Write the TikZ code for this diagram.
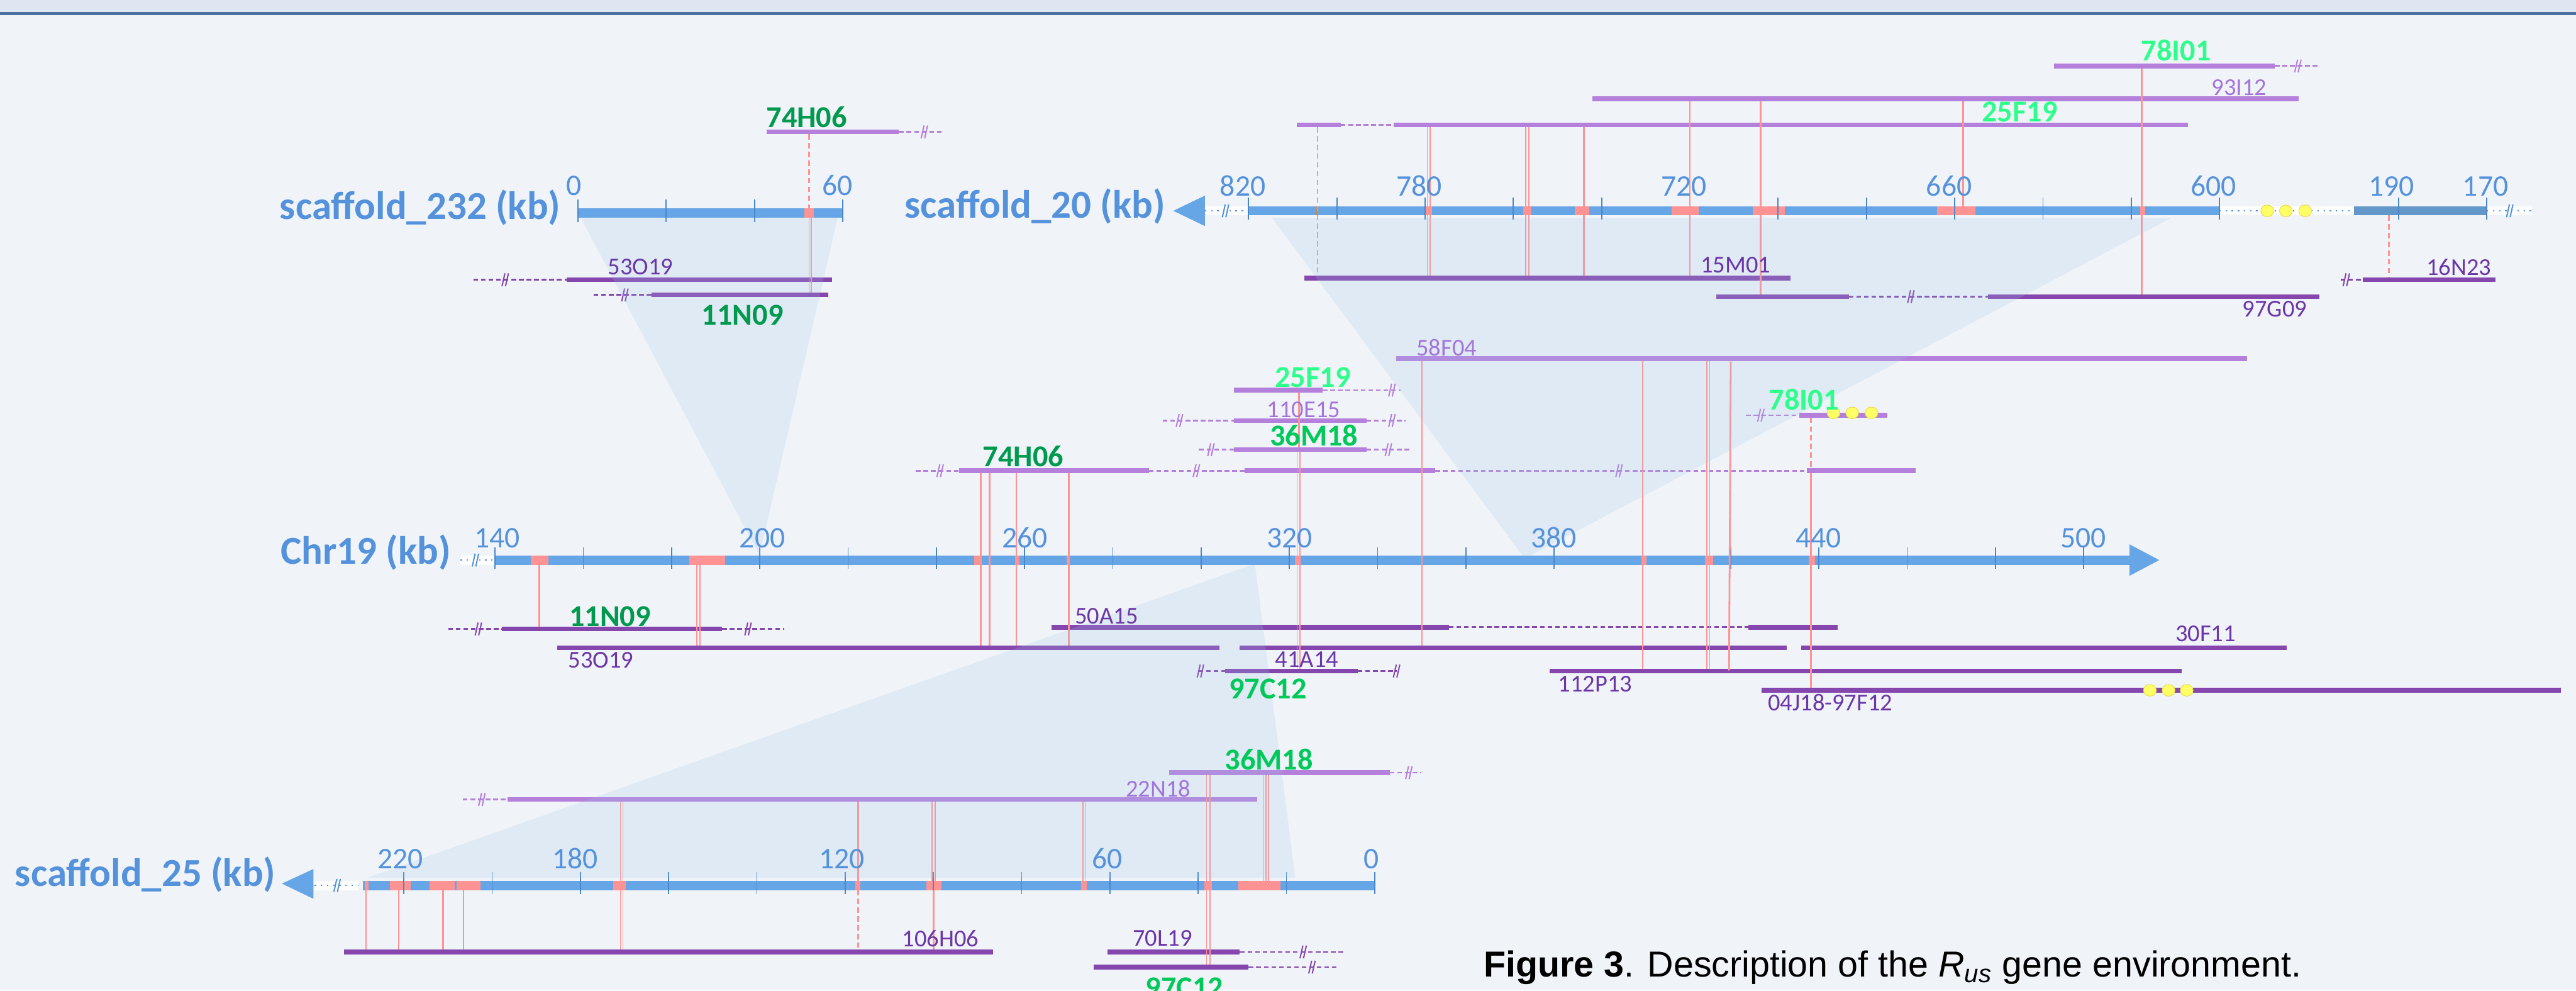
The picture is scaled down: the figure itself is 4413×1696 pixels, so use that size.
\documentclass[tikz,border=0pt]{standalone}
\usepackage{fontspec}
\setmainfont{Carlito}
\newfontfamily\capfont{Liberation Sans}
\usetikzlibrary{positioning}
\definecolor{pagebg}{HTML}{F0F4F9}
\definecolor{topstrip}{HTML}{DFE6F2}
\definecolor{topband}{HTML}{4A72A0}
\definecolor{axisblue}{HTML}{66A6E6}
\definecolor{axisdark}{HTML}{6396C9}
\definecolor{tickblue}{HTML}{4A86C8}
\definecolor{axistext}{HTML}{5592DC}
\definecolor{hitred}{HTML}{FF9393}
\definecolor{hitorange}{HTML}{E8821E}
\definecolor{lightclone}{HTML}{B580DB}
\definecolor{darkclone}{HTML}{8547AE}
\definecolor{lighttext}{HTML}{A374D9}
\definecolor{darktext}{HTML}{6B36A6}
\definecolor{greenhi}{HTML}{2EFF8A}
\definecolor{greenmid}{HTML}{00C95A}
\definecolor{greenlo}{HTML}{009A4E}
\definecolor{projblue}{HTML}{9DC3E6}
\definecolor{dotyellow}{HTML}{FFFF66}
\definecolor{dotrim}{HTML}{E8D840}

\tikzset{
  scaflbl/.style={anchor=base east, inner sep=0pt, text=axistext, font=\fontsize{19.3}{22}\selectfont\bfseries},
  ticklbl/.style={anchor=base, inner sep=0pt, text=axistext, font=\fontsize{14.6}{17}\selectfont},
  ticklne/.style={draw=tickblue, line width=0.2mm},
  hit/.style={fill=hitred},
  redln/.style={draw=hitred, line width=0.3mm},
  redthin/.style={draw=hitred, line width=0.18mm},
  reddash/.style={redln, dash pattern=on 0.9mm off 0.6mm},
  lclone/.style={fill=lightclone},
  dclone/.style={fill=darkclone},
  lext/.style={draw=lightclone, line width=0.3mm, dash pattern=on 0.8mm off 0.5mm},
  dext/.style={draw=darkclone, line width=0.3mm, dash pattern=on 0.8mm off 0.5mm},
  brk/.style={line width=0.22mm},
  gapdots/.style={draw=axistext, line width=0.25mm, dash pattern=on 0.25mm off 0.8mm},
  lname/.style={anchor=base west, inner sep=0pt, text=lighttext, font=\fontsize{11.8}{14}\selectfont},
  dname/.style={anchor=base west, inner sep=0pt, text=darktext, font=\fontsize{11.8}{14}\selectfont},
  gname/.style={anchor=base, inner sep=0pt, font=\fontsize{14.8}{17}\selectfont\bfseries},
  proj/.style={fill=projblue, fill opacity=0.2},
  ydot/.style={fill=dotyellow, draw=dotrim, line width=0.1mm}
}

% clone bar, dashed extension, break mark, gap in the axis
\newcommand{\clonebar}[4]{\fill[#4] (#1,#3) rectangle (#2,#3+8);}
\newcommand{\cloneext}[4]{\draw[#4] (#1,#3+4) -- (#2,#3+4);}
\newcommand{\brkmark}[3]{\draw[brk,#3] (#1-6,#2+15) -- (#1-1,#2-7) (#1,#2+15) -- (#1+5,#2-7);}
\newcommand{\gapseg}[3]{\fill[white] (#1,#3) rectangle (#2,#3+16); \draw[gapdots] (#1,#3+8) -- (#2,#3+8);}

\begin{document}
\begin{tikzpicture}[x=0.1mm, y=-0.1mm]
\useasboundingbox (0,0) rectangle (4413,1696);
\fill[pagebg] (0,0) rectangle (4413,1696);
\fill[topstrip] (0,0) rectangle (4413,20);
\fill[topband] (0,20) rectangle (4413,26);

% ---- scaffold_232
\fill[axisblue] (990,357) rectangle (1444,373);
\fill[hit] (1378,357) rectangle (1394,373);
\foreach \x in {990,1141,1293,1444} \draw[ticklne] (\x,342) -- (\x,380);
\clonebar{1313}{1540}{222}{lclone}
\cloneext{1540}{1615}{222}{lext}
\brkmark{1584}{222}{lightclone}
\clonebar{971}{1425}{475}{dclone}
\cloneext{811}{971}{475}{dext}
\brkmark{866}{475}{darkclone}
\clonebar{1116}{1419}{501}{dclone}
\cloneext{1017}{1116}{501}{dext}
\brkmark{1071}{501}{darkclone}
\draw[reddash] (1386,230) -- (1386,357);
\draw[redthin] (1386,373) -- (1386,501) (1390,373) -- (1390,501);

% ---- scaffold_20
\fill[axisblue] (2010,361) -- (2064,335) -- (2064,387) -- cycle;
\gapseg{2064}{2139}{353}
\brkmark{2100}{357}{axistext}
\fill[axisblue] (2139,353) rectangle (3802,369);
\gapseg{3802}{4033}{353}
\fill[axisdark] (4033,353) rectangle (4260,369);
\gapseg{4260}{4337}{353}
\brkmark{4300}{357}{axistext}
\foreach \a/\b in {2441/2453,2609/2623,2698/2723,2864/2910,3003/3058,3318/3384,3666/3675}
  \fill[hit] (\a,353) rectangle (\b,369);
\fill[hitorange] (2255,353) rectangle (2258,369);
\foreach \k in {0,...,11} \draw[ticklne] ({2139+151.2*\k},338) -- ++(0,38);
\foreach \x in {4109,4260} \draw[ticklne] (\x,338) -- ++(0,38);
\foreach \x in {3884,3916,3949} \fill[ydot] (\x,361) ellipse [x radius=11, y radius=10];
\clonebar{3519}{3897}{109}{lclone}
\cloneext{3897}{3973}{109}{lext}
\brkmark{3937}{109}{lightclone}
\clonebar{2728}{3938}{165}{lclone}
\clonebar{2222}{2297}{210}{lclone}
\cloneext{2297}{2387}{210}{lext}
\clonebar{2387}{3748}{210}{lclone}
\clonebar{2235}{3067}{472}{dclone}
\clonebar{2940}{3167}{504}{dclone}
\cloneext{3167}{3406}{504}{dext}
\brkmark{3274}{504}{darkclone}
\clonebar{3406}{3973}{504}{dclone}
\clonebar{4048}{4275}{475}{dclone}
\cloneext{4010}{4048}{475}{dext}
\brkmark{4020}{475}{darkclone}
\draw[reddash] (2257,218) -- (2257,472);
\draw[redthin] (2445,218) -- (2445,472) (2450,218) -- (2450,472);
\draw[redthin] (2614,218) -- (2614,472) (2619,218) -- (2619,472);
\draw[redln] (2713,218) -- (2713,472);
\draw[redln] (2895,173) -- (2895,472);
\draw[redln] (3016,173) -- (3016,504);
\draw[redln] (3363,173) -- (3363,353);
\draw[redln] (3669,117) -- (3669,504);
\draw[reddash] (4092,369) -- (4092,475);

% ---- Chr19
\gapseg{789}{848}{951}
\brkmark{815}{955}{axistext}
\fill[axisblue] (848,951) rectangle (3650,967);
\fill[axisblue] (3648,932) -- (3699,959) -- (3648,986) -- cycle;
\foreach \a/\b in {909/940,1181/1242,1669/1680,1739/1746,1827/1833,2218/2228,2812/2821,2921/2935,2962/2966,3099/3109}
  \fill[hit] (\a,951) rectangle (\b,967);
\foreach \k in {0,...,18} \draw[ticklne] ({848+151.2*\k},937) -- ++(0,37);
\clonebar{2114}{2266}{664}{lclone}
\cloneext{2266}{2399}{664}{lext}
\brkmark{2385}{664}{lightclone}
\clonebar{2114}{2341}{716}{lclone}
\cloneext{1992}{2114}{716}{lext}
\brkmark{2021}{716}{lightclone}
\cloneext{2341}{2408}{716}{lext}
\brkmark{2385}{716}{lightclone}
\clonebar{2114}{2341}{766}{lclone}
\cloneext{2054}{2114}{766}{lext}
\brkmark{2075}{766}{lightclone}
\cloneext{2341}{2414}{766}{lext}
\brkmark{2379}{766}{lightclone}
\clonebar{2392}{3850}{610}{lclone}
\clonebar{1643}{1968}{802}{lclone}
\cloneext{1569}{1643}{802}{lext}
\brkmark{1611}{802}{lightclone}
\cloneext{1968}{2132}{802}{lext}
\brkmark{2050}{802}{lightclone}
\clonebar{2132}{2459}{802}{lclone}
\cloneext{2459}{3095}{802}{lext}
\brkmark{2774}{802}{lightclone}
\clonebar{3095}{3282}{802}{lclone}
\clonebar{3082}{3233}{707}{lclone}
\cloneext{2991}{3082}{707}{lext}
\brkmark{3017}{707}{lightclone}
\clonebar{860}{1237}{1073}{dclone}
\cloneext{768}{860}{1073}{dext}
\brkmark{820}{1073}{darkclone}
\cloneext{1237}{1343}{1073}{dext}
\brkmark{1282}{1073}{darkclone}
\clonebar{955}{2089}{1105}{dclone}
\clonebar{1801}{2482}{1070}{dclone}
\cloneext{2482}{2995}{1070}{dext}
\clonebar{2995}{3148}{1070}{dclone}
\clonebar{2124}{3061}{1105}{dclone}
\clonebar{3086}{3917}{1105}{dclone}
\clonebar{2099}{2326}{1145}{dclone}
\cloneext{2053}{2099}{1145}{dext}
\brkmark{2057}{1145}{darkclone}
\cloneext{2326}{2393}{1145}{dext}
\brkmark{2393}{1145}{darkclone}
\clonebar{2655}{3737}{1145}{dclone}
\clonebar{3018}{4387}{1178}{dclone}
\draw[redln] (924,967) -- (924,1073);
\draw[redthin] (1194,967) -- (1194,1105) (1199,967) -- (1199,1105);
\foreach \x in {1680,1695,1741,1831} \draw[redln] (\x,810) -- (\x,1105);
\draw[redln] (2225,672) -- (2225,766);
\draw[redthin] (2222,774) -- (2222,1145) (2227,774) -- (2227,1145);
\draw[redln] (2436,618) -- (2436,1105);
\draw[redln] (2814,618) -- (2814,1145);
\draw[redthin] (2924,618) -- (2924,1145) (2929,618) -- (2929,1145);
\draw[redln] (2965,619) -- (2962,1148);
\draw[reddash] (3102,715) -- (3102,802);
\draw[redln] (3102,810) -- (3102,1178);
\foreach \x in {3141,3173,3206} \fill[ydot] (\x,707) ellipse [x radius=11, y radius=10];
\foreach \x in {3683,3715,3746} \fill[ydot] (\x,1182) ellipse [x radius=11, y radius=10];

% ---- scaffold_25
\fill[axisblue] (483,1513) -- (537,1488) -- (537,1539) -- cycle;
\gapseg{539}{614}{1508}
\brkmark{578}{1512}{axistext}
\fill[axisblue] (622,1508) rectangle (2355,1524);
\foreach \a/\b in {625/631,668/703,736/779,782/823,1050/1072,1465/1474,1587/1613,1852/1862,2063/2076,2121/2193}
  \fill[hit] (\a,1508) rectangle (\b,1524);
\foreach \k in {0,...,11} \draw[ticklne] ({2355-151.2*\k},1493) -- ++(0,38);
\clonebar{2003}{2381}{1319}{lclone}
\cloneext{2381}{2435}{1319}{lext}
\brkmark{2414}{1319}{lightclone}
\clonebar{869}{2154}{1365}{lclone}
\cloneext{793}{869}{1365}{lext}
\brkmark{826}{1365}{lightclone}
\clonebar{589}{1701}{1626}{dclone}
\clonebar{1897}{2124}{1626}{dclone}
\cloneext{2124}{2305}{1626}{dext}
\brkmark{2233}{1626}{darkclone}
\clonebar{1874}{2139}{1652}{dclone}
\cloneext{2139}{2289}{1652}{dext}
\brkmark{2248}{1652}{darkclone}
\foreach \x in {627,683,759,794} \draw[redln] (\x,1524) -- (\x,1626);
\draw[redthin] (1063,1373) -- (1063,1626) (1067,1373) -- (1067,1626);
\draw[redln] (1470,1373) -- (1470,1508);
\draw[reddash] (1470,1524) -- (1470,1628);
\draw[redthin] (1597,1373) -- (1597,1508) (1602,1373) -- (1602,1508);
\draw[redln] (1599,1524) -- (1599,1626);
\draw[redthin] (1855,1373) -- (1855,1508) (1859,1373) -- (1859,1508);
\draw[redthin] (2067,1327) -- (2067,1652) (2073,1327) -- (2073,1652);
\draw[redthin] (2165,1327) -- (2165,1508) (2169,1327) -- (2169,1508) (2173,1327) -- (2173,1508);

% ---- projections
\fill[proj] (995,373) -- (1435,373) -- (1301,951) -- cycle;
\fill[proj] (2179,373) -- (3720,373) -- (2622,951) -- (2608,951) -- cycle;
\fill[proj] (2145,967) -- (2150,967) -- (2219,1503) -- (629,1503) -- cycle;

% ---- axis labels
\node[scaflbl] (s232) at (961,375) {scaffold\_232 (kb)};
\node[scaflbl] (s20) at (1997,373) {scaffold\_20 (kb)};
\node[scaflbl] (chr) at (773,966) {Chr19 (kb)};
\node[scaflbl] (s25) at (473,1517) {scaffold\_25 (kb)};
\node[ticklbl] (sa0) at (983,335) {0};
\node[ticklbl] (sa60) at (1435,335) {60};
\foreach \v/\x in {820/2129,780/2431,720/2885,660/3339,600/3792,190/4097,170/4258}
  \node[ticklbl] (sb\v) at (\x,336) {\v};
\foreach \v/\x in {140/852,200/1306,260/1756,320/2209,380/2662,440/3115,500/3569}
  \node[ticklbl] (ch\v) at (\x,938) {\v};
\foreach \v/\x in {220/686,180/985,120/1442,60/1897,0/2349}
  \node[ticklbl] (sc\v) at (\x,1487) {\v};

% ---- clone labels
\node[gname, text=greenlo] (c74a) at (1382,218) {74H06};
\node[dname] (c53a) at (1041,470) {53O19};
\node[gname, text=greenlo] (c11a) at (1272,557) {11N09};
\node[gname, text=greenhi] (c78a) at (3728,104) {78I01};
\node[lname] (c93) at (3788,163) {93I12};
\node[gname, text=greenhi] (c25a) at (3460,209) {25F19};
\node[dname] (c15) at (2913,467) {15M01};
\node[dname] (c97g) at (3841,543) {97G09};
\node[dname] (c16) at (4156,471) {16N23};
\node[lname] (c58) at (2426,609) {58F04};
\node[gname, text=greenhi] (c25b) at (2249,663) {25F19};
\node[lname] (c110) at (2170,715) {110E15};
\node[gname, text=greenmid] (c36b) at (2251,763) {36M18};
\node[gname, text=greenhi] (c78b) at (3090,702) {78I01};
\node[gname, text=greenlo] (c74b) at (1753,799) {74H06};
\node[gname, text=greenlo] (c11b) at (1045,1072) {11N09};
\node[dname] (c50) at (1841,1068) {50A15};
\node[dname] (c30) at (3726,1098) {30F11};
\node[dname] (c53b) at (973,1144) {53O19};
\node[dname] (c41) at (2184,1143) {41A14};
\node[dname] (c112) at (2669,1185) {112P13};
\node[gname, text=greenmid] (c97b) at (2172,1196) {97C12};
\node[dname] (c04) at (3028,1217) {04J18-97F12};
\node[gname, text=greenmid] (c36c) at (2174,1318) {36M18};
\node[lname] (c22) at (1928,1365) {22N18};
\node[dname] (c106) at (1545,1621) {106H06};
\node[dname] (c70) at (1940,1620) {70L19};
\node[gname, text=greenmid] (c97c) at (2029,1708) {97C12};

% ---- caption
\node[anchor=base west, inner sep=0pt, font=\capfont\fontsize{17.6}{21}\selectfont] (cap) at (2541,1673)
  {\textbf{Figure 3}. Description of the \textit{R\textsubscript{us}} gene environment.};
\end{tikzpicture}
\end{document}
